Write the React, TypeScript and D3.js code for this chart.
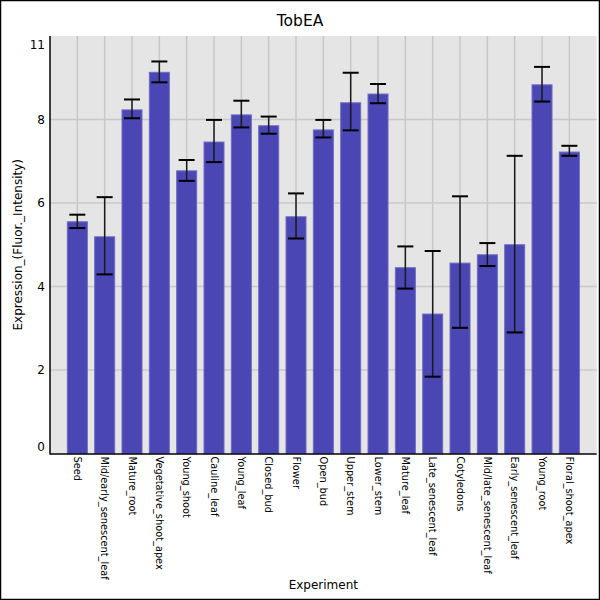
import React, { useEffect, useRef } from "react";
import { select, scaleLinear } from "d3";

const categories = [
  "Seed",
  "Mid/early_senescent_leaf",
  "Mature_root",
  "Vegetative_shoot_apex",
  "Young_shoot",
  "Cauline_leaf",
  "Young_leaf",
  "Closed_bud",
  "Flower",
  "Open_bud",
  "Upper_stem",
  "Lower_stem",
  "Mature_leaf",
  "Late_senescent_leaf",
  "Cotyledons",
  "Mid/late_senescent_leaf",
  "Early_senescent_leaf",
  "Young_root",
  "Floral_shoot_apex"
];
const values = [5.55, 5.19, 8.23, 9.13, 6.77, 7.46, 8.11, 7.85, 5.67, 7.75, 8.4, 8.61, 4.45, 3.34, 4.56, 4.76, 5.0, 8.83, 7.22];
const errHigh = [5.72, 6.14, 8.48, 9.39, 7.03, 7.99, 8.45, 8.07, 6.23, 7.99, 9.12, 8.85, 4.96, 4.85, 6.16, 5.04, 7.13, 9.26, 7.37];
const errLow = [5.4, 4.29, 8.03, 8.89, 6.53, 6.98, 7.81, 7.66, 5.15, 7.57, 7.74, 8.39, 3.95, 1.84, 3.01, 4.49, 2.9, 8.43, 7.13];
const gridValues = [2, 4, 6, 8];
// where each y label sits on the value axis (the "0" sits a little above the axis line)
const yTickValues = [0.15, 2, 4, 6, 8, 9.8];
const yTickLabels = ["0", "2", "4", "6", "8", "11"];

const W = 600;
const H = 600;
const left = 50;
const right = 596.7;
const top = 36;
const bottom = 453.5;

export default function App() {
  const svgRef = useRef(null);

  useEffect(() => {
    document.body.style.margin = "0";
    const svg = select(svgRef.current!);
    svg.selectAll("*").remove();

    const x = scaleLinear().domain([-1, categories.length]).range([left, right]);
    const y = scaleLinear().domain([0, 10]).range([bottom, top]);
    const barW = 20;
    const capW = 16;

    // frame
    svg.append("rect").attr("x", 0.5).attr("y", 0.5).attr("width", W - 1).attr("height", H - 1)
      .attr("fill", "white").attr("stroke", "black").attr("stroke-width", 1.5);

    // plot background
    svg.append("rect").attr("x", left).attr("y", top).attr("width", right - left).attr("height", bottom - top)
      .attr("fill", "#e5e5e5");

    // grid
    const grid = svg.append("g");
    grid.selectAll(".hg").data(gridValues).join("line")
      .attr("x1", left).attr("x2", right)
      .attr("y1", (d) => y(d)).attr("y2", (d) => y(d))
      .attr("stroke", "#c8c8c8").attr("stroke-width", 1.5);
    grid.selectAll(".vg").data(categories.map((_, i) => i)).join("line")
      .attr("x1", (d) => x(d)).attr("x2", (d) => x(d))
      .attr("y1", top).attr("y2", bottom)
      .attr("stroke", "#c8c8c8").attr("stroke-width", 1.5);

    // bars
    svg.append("g").selectAll("rect").data(values).join("rect")
      .attr("x", (_, i) => x(i) - barW / 2)
      .attr("y", (d) => y(d))
      .attr("width", barW)
      .attr("height", (d) => y(0) - y(d))
      .attr("fill", "#4a46b3")
      .attr("stroke", "#6d6ac3")
      .attr("stroke-width", 1);

    // error bars
    const eb = svg.append("g").selectAll("g").data(values).join("g");
    eb.append("line")
      .attr("x1", (_, i) => x(i)).attr("x2", (_, i) => x(i))
      .attr("y1", (_, i) => y(errHigh[i])).attr("y2", (_, i) => y(errLow[i]))
      .attr("stroke", "#1a1a1a").attr("stroke-width", 1.5);
    eb.append("line")
      .attr("x1", (_, i) => x(i) - capW / 2).attr("x2", (_, i) => x(i) + capW / 2)
      .attr("y1", (_, i) => y(errHigh[i])).attr("y2", (_, i) => y(errHigh[i]))
      .attr("stroke", "black").attr("stroke-width", 2);
    eb.append("line")
      .attr("x1", (_, i) => x(i) - capW / 2).attr("x2", (_, i) => x(i) + capW / 2)
      .attr("y1", (_, i) => y(errLow[i])).attr("y2", (_, i) => y(errLow[i]))
      .attr("stroke", "black").attr("stroke-width", 2);

    // axes lines
    svg.append("line").attr("x1", left).attr("x2", left).attr("y1", top).attr("y2", bottom + 1)
      .attr("stroke", "black").attr("stroke-width", 1.5);
    svg.append("line").attr("x1", left).attr("x2", right).attr("y1", bottom + 0.5).attr("y2", bottom + 0.5)
      .attr("stroke", "black").attr("stroke-width", 1.5);

    const font = "DejaVu Sans, sans-serif";

    // y tick labels
    svg.append("g").selectAll("text").data(yTickValues).join("text")
      .attr("x", 45).attr("y", (d) => y(d))
      .attr("dy", "0.35em")
      .attr("text-anchor", "end")
      .attr("font-family", font).attr("font-size", 12)
      .text((_, i) => yTickLabels[i]);

    // x tick labels (rotated)
    svg.append("g").selectAll("text").data(categories).join("text")
      .attr("transform", (_, i) => `translate(${x(i)}, ${bottom + 3}) rotate(90)`)
      .attr("dy", "0.35em")
      .attr("font-family", font).attr("font-size", 9.8)
      .text((d) => d);

    // titles
    svg.append("text").attr("x", 300).attr("y", 26).attr("text-anchor", "middle")
      .attr("font-family", font).attr("font-size", 15.5).text("TobEA");
    svg.append("text").attr("x", (left + right) / 2).attr("y", 589).attr("text-anchor", "middle")
      .attr("font-family", font).attr("font-size", 12).text("Experiment");
    svg.append("text").attr("transform", `translate(22, ${(top + bottom) / 2}) rotate(-90)`)
      .attr("text-anchor", "middle")
      .attr("font-family", font).attr("font-size", 12).text("Expression_(Fluor._Intensity)");
  }, []);

  return <svg ref={svgRef} width={W} height={H} style={{ display: "block" }} />;
}
